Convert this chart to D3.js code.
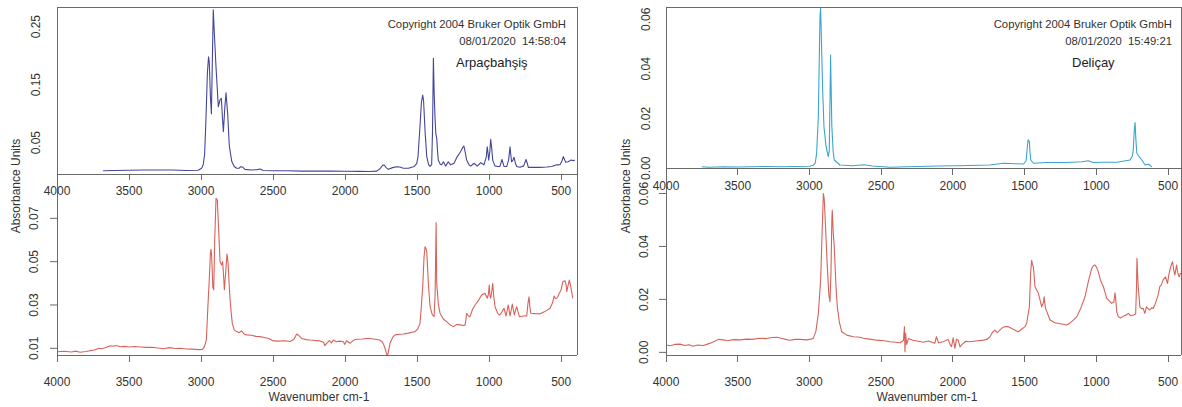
<!DOCTYPE html>
<html><head><meta charset="utf-8">
<script src="https://cdn.jsdelivr.net/npm/d3@7"></script>
<style>
body{margin:0;background:#fff}
svg{display:block}
text{font-family:"Liberation Sans",Arial,sans-serif}
</style>
</head><body>
<svg id="c" width="1182" height="407"></svg>
<script>
// ---------- DATA ----------
const xTickValues = [4000, 3500, 3000, 2500, 2000, 1500, 1000, 500];
const arpTopTicks = [0.05, 0.15, 0.25];
const arpBottomTicks = [0.01, 0.03, 0.05, 0.07];
const delTopTicks = [0.00, 0.02, 0.04, 0.06];
const delBottomTicks = [0.00, 0.02, 0.04, 0.06];

const sampleNames = ["Arpaçbahşiş", "Deliçay"];
const copyrightText = "Copyright 2004 Bruker Optik GmbH";
const stampTexts = ["08/01/2020  14:58:04", "08/01/2020  15:49:21"];
const yAxisTitle = "Absorbance Units";
const xAxisTitle = "Wavenumber cm-1";

// [wavenumber, absorbance]
const arpTop = [[3680,0.0015],[3600,0.002],[3500,0.0025],[3400,0.003],[3300,0.003],[3200,0.0028],[3100,0.002],[3020,0.0025],[2996,0.006],[2985,0.012],[2975,0.03],[2966,0.09],[2956,0.17],[2948,0.198],[2943,0.19],[2935,0.13],[2928,0.10],[2921,0.2],[2915,0.279],[2908,0.24],[2896,0.18],[2880,0.112],[2868,0.124],[2859,0.1265],[2852,0.095],[2845,0.069],[2835,0.11],[2827,0.136],[2815,0.1],[2804,0.045],[2787,0.018],[2770,0.009],[2753,0.006],[2735,0.006],[2725,0.0086],[2711,0.008],[2695,0.004],[2650,0.003],[2610,0.0035],[2590,0.0045],[2568,0.002],[2500,0.0015],[2400,0.0015],[2300,0.001],[2200,0.001],[2100,0.001],[2000,0.0008],[1900,0.0005],[1827,0.0003],[1780,0.001],[1758,0.005],[1740,0.011],[1728,0.0115],[1715,0.007],[1700,0.004],[1670,0.007],[1642,0.0086],[1620,0.008],[1596,0.006],[1560,0.006],[1520,0.009],[1503,0.014],[1494,0.025],[1482,0.07],[1470,0.12],[1461,0.132],[1455,0.122],[1445,0.07],[1433,0.026],[1420,0.012],[1410,0.009],[1399,0.012],[1393,0.07],[1387,0.1955],[1382,0.14],[1376,0.095],[1370,0.065],[1364,0.058],[1358,0.035],[1353,0.02],[1340,0.013],[1330,0.0118],[1318,0.017],[1302,0.0096],[1284,0.017],[1267,0.0118],[1244,0.0145],[1221,0.026],[1200,0.034],[1185,0.041],[1175,0.0443],[1165,0.032],[1156,0.02],[1140,0.012],[1128,0.0096],[1105,0.0145],[1082,0.0096],[1059,0.0155],[1036,0.0118],[1020,0.025],[1013,0.043],[1007,0.03],[1003,0.02],[995,0.035],[989,0.056],[982,0.04],[975,0.02],[960,0.01],[940,0.009],[925,0.009],[911,0.021],[897,0.009],[878,0.009],[865,0.02],[855,0.043],[850,0.03],[844,0.017],[835,0.02],[827,0.0248],[818,0.015],[809,0.009],[786,0.0075],[760,0.01],[744,0.021],[736,0.015],[728,0.0075],[700,0.0075],[647,0.0075],[600,0.008],[566,0.009],[531,0.0118],[508,0.012],[495,0.018],[485,0.026],[475,0.02],[469,0.0162],[451,0.017],[434,0.02],[416,0.019],[404,0.02]];

const arpBottom = [[4000,0.0084],[3950,0.0086],[3900,0.0083],[3870,0.0087],[3840,0.0082],[3800,0.0085],[3770,0.0089],[3740,0.0092],[3710,0.01],[3690,0.0098],[3660,0.0104],[3630,0.0112],[3610,0.0109],[3590,0.0113],[3560,0.0107],[3530,0.0109],[3500,0.0106],[3460,0.0108],[3420,0.0106],[3380,0.0104],[3340,0.0105],[3300,0.0101],[3260,0.0098],[3220,0.0103],[3180,0.0099],[3146,0.01],[3100,0.0097],[3060,0.0096],[3020,0.0094],[2990,0.0095],[2975,0.011],[2963,0.014],[2952,0.03],[2943,0.0415],[2935,0.054],[2931,0.0557],[2926,0.052],[2918,0.038],[2912,0.037],[2905,0.06],[2896,0.0792],[2887,0.0784],[2878,0.065],[2868,0.05],[2862,0.049],[2857,0.0485],[2850,0.05],[2845,0.045],[2838,0.037],[2829,0.045],[2820,0.0535],[2813,0.05],[2805,0.04],[2799,0.033],[2790,0.026],[2783,0.0215],[2770,0.0185],[2753,0.0177],[2735,0.0172],[2720,0.018],[2700,0.0165],[2683,0.0162],[2650,0.016],[2620,0.0155],[2591,0.0154],[2560,0.015],[2530,0.0145],[2498,0.0134],[2460,0.0133],[2420,0.0135],[2382,0.0131],[2355,0.0142],[2336,0.0166],[2320,0.0158],[2301,0.0145],[2270,0.014],[2244,0.0138],[2210,0.0136],[2174,0.0134],[2150,0.0128],[2140,0.0112],[2128,0.0123],[2110,0.0135],[2095,0.0125],[2082,0.0138],[2060,0.013],[2040,0.0133],[2012,0.013],[2002,0.0118],[1990,0.0135],[1966,0.0123],[1940,0.0138],[1919,0.0142],[1880,0.0143],[1850,0.0145],[1827,0.0145],[1790,0.0142],[1758,0.0138],[1740,0.0128],[1728,0.011],[1716,0.0085],[1707,0.0062],[1699,0.0085],[1688,0.0123],[1670,0.015],[1653,0.0162],[1620,0.0165],[1596,0.0166],[1560,0.017],[1530,0.0175],[1515,0.0177],[1495,0.019],[1480,0.0215],[1470,0.03],[1461,0.0385],[1452,0.052],[1445,0.0569],[1438,0.056],[1433,0.0546],[1422,0.04],[1410,0.0292],[1395,0.0255],[1382,0.0246],[1375,0.035],[1368,0.068],[1364,0.04],[1352,0.03],[1341,0.0262],[1318,0.0235],[1295,0.0223],[1275,0.021],[1249,0.02],[1225,0.021],[1202,0.0208],[1180,0.0205],[1167,0.0207],[1160,0.024],[1156,0.0262],[1145,0.025],[1133,0.0246],[1115,0.028],[1098,0.03],[1075,0.032],[1052,0.0346],[1029,0.0354],[1013,0.0331],[1005,0.035],[999,0.0392],[994,0.034],[989,0.0331],[982,0.036],[975,0.04],[968,0.034],[959,0.0292],[940,0.026],[925,0.0254],[910,0.027],[897,0.0285],[883,0.0249],[867,0.03],[855,0.0249],[839,0.0304],[825,0.0254],[809,0.0292],[790,0.0246],[770,0.0248],[750,0.025],[739,0.0249],[730,0.031],[723,0.0338],[717,0.029],[711,0.0262],[680,0.026],[647,0.0259],[620,0.0268],[600,0.0275],[577,0.0285],[560,0.031],[549,0.0341],[540,0.033],[531,0.0331],[522,0.034],[513,0.0354],[500,0.037],[489,0.0407],[473,0.0412],[465,0.039],[461,0.0362],[452,0.039],[443,0.0415],[435,0.039],[427,0.0362],[420,0.0331]];

const delTop = [[3751,0.0006],[3700,0.0004],[3600,0.0006],[3500,0.0005],[3400,0.0006],[3300,0.0007],[3200,0.0006],[3100,0.0007],[3000,0.0008],[2973,0.0012],[2960,0.002],[2950,0.006],[2938,0.0208],[2930,0.05],[2926,0.062],[2922,0.0644],[2915,0.0476],[2907,0.03],[2899,0.0168],[2885,0.009],[2869,0.0047],[2862,0.007],[2856,0.03],[2853,0.0456],[2848,0.03],[2844,0.0168],[2835,0.007],[2827,0.0033],[2788,0.0013],[2700,0.001],[2620,0.0014],[2560,0.0009],[2438,0.0004],[2322,0.0006],[2100,0.0009],[1974,0.001],[1741,0.0013],[1648,0.002],[1560,0.0018],[1507,0.0017],[1490,0.003],[1482,0.008],[1476,0.0114],[1467,0.0107],[1462,0.006],[1457,0.0033],[1439,0.002],[1346,0.0023],[1207,0.0023],[1100,0.0026],[1056,0.003],[1021,0.0023],[950,0.0024],[858,0.0024],[765,0.0033],[748,0.005],[742,0.008],[736,0.015],[730,0.0184],[725,0.012],[718,0.006],[700,0.0045],[683,0.0033],[660,0.0013],[637,0.0016],[614,0.0006]];

const delBottom = [[4000,0.0028],[3970,0.0025],[3940,0.003],[3902,0.0031],[3870,0.0026],[3840,0.0029],[3810,0.0023],[3780,0.0028],[3740,0.0026],[3710,0.0031],[3693,0.0034],[3660,0.0042],[3635,0.0049],[3600,0.0047],[3570,0.0044],[3531,0.0048],[3480,0.0047],[3440,0.005],[3400,0.0049],[3345,0.0053],[3300,0.0052],[3260,0.0056],[3228,0.0057],[3190,0.0052],[3160,0.0048],[3136,0.0046],[3100,0.0049],[3066,0.0049],[3020,0.0047],[2990,0.005],[2973,0.0053],[2955,0.008],[2938,0.0147],[2922,0.0273],[2912,0.045],[2903,0.06],[2897,0.058],[2892,0.0525],[2878,0.035],[2865,0.022],[2857,0.0191],[2850,0.03],[2844,0.05],[2841,0.0537],[2834,0.045],[2827,0.0398],[2816,0.026],[2806,0.0172],[2790,0.011],[2775,0.0078],[2740,0.0065],[2694,0.0059],[2660,0.0058],[2624,0.0053],[2580,0.005],[2531,0.0046],[2480,0.0044],[2438,0.004],[2400,0.0038],[2369,0.0036],[2345,0.0045],[2338,0.0097],[2334,0.0002],[2330,0.0072],[2322,0.003],[2310,0.0052],[2278,0.0046],[2240,0.0042],[2208,0.0038],[2170,0.0043],[2126,0.0034],[2115,0.0059],[2100,0.0036],[2068,0.004],[2033,0.0049],[2020,0.003],[2010,0.0021],[1998,0.0055],[1986,0.0015],[1975,0.005],[1963,0.0046],[1950,0.002],[1940,0.0028],[1910,0.0042],[1882,0.004],[1840,0.0043],[1789,0.0046],[1760,0.005],[1742,0.0059],[1725,0.0075],[1707,0.0084],[1690,0.0074],[1672,0.0085],[1650,0.0095],[1637,0.0097],[1614,0.0097],[1590,0.009],[1544,0.0078],[1515,0.009],[1497,0.0097],[1486,0.011],[1467,0.0172],[1458,0.03],[1451,0.0348],[1445,0.033],[1439,0.0323],[1428,0.0248],[1404,0.0223],[1381,0.0172],[1368,0.019],[1364,0.021],[1358,0.018],[1354,0.0166],[1323,0.0122],[1290,0.0112],[1250,0.0108],[1207,0.0103],[1180,0.0112],[1137,0.0134],[1110,0.0165],[1079,0.021],[1055,0.027],[1032,0.0317],[1020,0.0328],[1009,0.033],[998,0.032],[986,0.0304],[970,0.027],[951,0.0248],[928,0.0204],[893,0.0185],[878,0.019],[870,0.0225],[865,0.02],[858,0.0153],[847,0.0134],[830,0.013],[812,0.0137],[795,0.014],[777,0.0147],[760,0.0138],[742,0.0141],[726,0.0145],[720,0.025],[717,0.0355],[713,0.03],[708,0.0248],[697,0.0172],[685,0.0165],[674,0.0166],[662,0.0147],[651,0.0172],[640,0.0165],[627,0.016],[615,0.0168],[604,0.0166],[592,0.018],[581,0.0197],[570,0.0215],[558,0.0248],[547,0.0255],[535,0.0273],[518,0.0285],[504,0.026],[496,0.029],[488,0.031],[478,0.033],[469,0.0342],[460,0.031],[453,0.0292],[447,0.031],[441,0.033],[433,0.03],[423,0.0285],[415,0.0298],[406,0.0298]];

// ---------- LAYOUT ----------
const panels = [
  {
    x0: 57, x1: 577, xDomain: [4000, 390],
    top: {data: arpTop, color: "#45459c", yTop: 7.3, yBot: 174, yDomain: [-0.004, 0.2834], ticks: arpTopTicks, labelX: 39.5},
    bot: {data: arpBottom, color: "#d8625a", yTop: 180, yBot: 355, yDomain: [0.0069, 0.0877], ticks: arpBottomTicks, labelX: 37.5},
    name: sampleNames[0], stamp: stampTexts[0], textRight: 566, nameX: 456,
    yTitleX: 19.5, xTitleX: 319
  },
  {
    x0: 666, x1: 1181, xDomain: [4000, 410],
    top: {data: delTop, color: "#3aa5cd", yTop: 7.3, yBot: 168.7, yDomain: [-0.0002, 0.0648], ticks: delTopTicks, labelX: 649.5},
    bot: {data: delBottom, color: "#d8625a", yTop: 185, yBot: 355, yDomain: [-0.001, 0.0632], ticks: delBottomTicks, labelX: 647.5},
    name: sampleNames[1], stamp: stampTexts[1], textRight: 1172, nameX: 1072,
    yTitleX: 629.5, xTitleX: 927
  }
];

const svg = d3.select("#c");
const axisColor = "#6a6a6a";
const textColor = "#333";
const fmt = d3.format(".2f");
let clipId = 0;

function drawSub(p, s, xScale, clipTop, clipBot, withTicks) {
  const y = d3.scaleLinear().domain(s.yDomain).range([s.yBot, s.yTop]);
  const id = "clip" + (clipId++);
  svg.append("clipPath").attr("id", id).append("rect")
    .attr("x", p.x0).attr("y", clipTop).attr("width", p.x1 - p.x0).attr("height", clipBot - clipTop);
  const line = d3.line().x(d => xScale(d[0])).y(d => y(d[1]));
  svg.append("path").datum(s.data)
    .attr("clip-path", `url(#${id})`)
    .attr("fill", "none").attr("stroke", s.color).attr("stroke-width", 1.1)
    .attr("stroke-linejoin", "round")
    .attr("d", line);
  const g = svg.append("g");
  s.ticks.forEach(t => {
    const yy = y(t);
    if (withTicks) {
      g.append("line").attr("x1", p.x0 - 7).attr("x2", p.x0).attr("y1", yy).attr("y2", yy)
        .attr("stroke", axisColor).attr("stroke-width", 1);
    }
    g.append("text").attr("transform", `translate(${s.labelX},${yy}) rotate(-90)`)
      .attr("text-anchor", "middle").attr("font-size", 12).attr("fill", textColor)
      .text(fmt(t));
  });
}

panels.forEach(p => {
  const x = d3.scaleLinear().domain(p.xDomain).range([p.x0, p.x1]);
  drawSub(p, p.top, x, p.top.yTop, p.top.yBot, false);
  drawSub(p, p.bot, x, p.top.yBot + 1, p.bot.yBot, true);

  const ln = (x1, y1, x2, y2) => svg.append("line").attr("x1", x1).attr("y1", y1).attr("x2", x2).attr("y2", y2)
      .attr("stroke", axisColor).attr("stroke-width", 1).attr("shape-rendering", "crispEdges");
  ln(p.x0, p.top.yTop, p.x1, p.top.yTop);
  ln(p.x0, p.top.yTop, p.x0, p.bot.yBot + 7);
  ln(p.x1, p.top.yTop, p.x1, p.bot.yBot);
  ln(p.x0, p.top.yBot, p.x1, p.top.yBot);
  ln(p.x0, p.bot.yBot, p.x1, p.bot.yBot);

  xTickValues.forEach(t => {
    const xx = x(t);
    ln(xx, p.top.yBot, xx, p.top.yBot + 6);
    svg.append("text").attr("x", xx).attr("y", p.top.yBot + 21).attr("text-anchor", "middle")
      .attr("font-size", 12).attr("fill", textColor).text(t);
    ln(xx, p.bot.yBot, xx, p.bot.yBot + 7);
    svg.append("text").attr("x", xx).attr("y", p.bot.yBot + 31).attr("text-anchor", "middle")
      .attr("font-size", 12).attr("fill", textColor).text(t);
  });

  svg.append("text").attr("transform", `translate(${p.yTitleX},186) rotate(-90)`)
    .attr("text-anchor", "middle").attr("font-size", 12).attr("fill", textColor).text(yAxisTitle);
  svg.append("text").attr("x", p.xTitleX).attr("y", 401).attr("text-anchor", "middle")
    .attr("font-size", 12).attr("fill", textColor).text(xAxisTitle);

  svg.append("text").attr("x", p.textRight).attr("y", 28).attr("text-anchor", "end")
    .attr("font-size", 11.3).attr("fill", textColor).text(copyrightText);
  svg.append("text").attr("x", p.textRight).attr("y", 45).attr("text-anchor", "end")
    .attr("font-size", 11.3).attr("fill", textColor)
    .style("white-space", "pre").text(p.stamp);
  svg.append("text").attr("x", p.nameX).attr("y", 66.5)
    .attr("font-family", "'Open Sans', 'Noto Sans', sans-serif")
    .attr("font-size", 13).attr("fill", "#222").text(p.name);
});
</script>
</body></html>
